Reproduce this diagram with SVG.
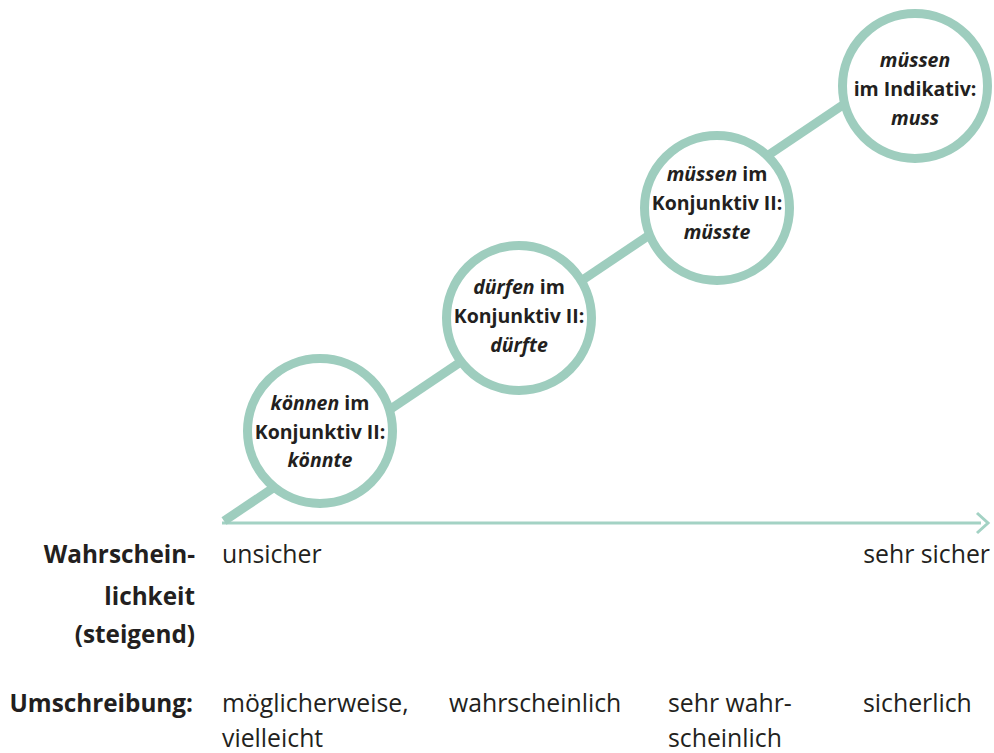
<svg xmlns="http://www.w3.org/2000/svg" width="994" height="753" viewBox="0 0 994 753">
<style>
.ring{fill:#fff;stroke:#9ecdbe;stroke-width:9}
.ct{font-family:"Open Sans","Liberation Sans",sans-serif;font-weight:bold;font-size:19.5px;fill:#231f20;text-anchor:middle}
.it{font-style:italic}
.lb{font-family:"Open Sans","Liberation Sans",sans-serif;font-size:24.8px;fill:#231f20}
.b{font-weight:bold;text-anchor:end;font-size:24.3px}
</style>
<g id="connectors">
<line x1="222" y1="523" x2="981" y2="523" stroke="#a3d2c4" stroke-width="3"/>
<polyline points="977,513 988,523 977,533" fill="none" stroke="#a3d2c4" stroke-width="3"/>
<line x1="224" y1="521" x2="880" y2="80" stroke="#9ecdbe" stroke-width="9" stroke-linecap="butt"/>
</g>
<g id="node1">
<circle class="ring" cx="320" cy="431" r="72.5"/>
<text class="ct" x="320" y="410"><tspan class="it">können</tspan> im</text>
<text class="ct" x="320" y="439">Konjunktiv II:</text>
<text class="ct it" x="320" y="467">könnte</text>
</g>
<g id="node2">
<circle class="ring" cx="519" cy="318" r="72.5"/>
<text class="ct" x="519" y="294"><tspan class="it">dürfen</tspan> im</text>
<text class="ct" x="519" y="323">Konjunktiv II:</text>
<text class="ct it" x="519" y="352">dürfte</text>
</g>
<g id="node3">
<circle class="ring" cx="717" cy="208" r="72.5"/>
<text class="ct" x="717" y="181"><tspan class="it">müssen</tspan> im</text>
<text class="ct" x="717" y="210">Konjunktiv II:</text>
<text class="ct it" x="717" y="239">müsste</text>
</g>
<g id="node4">
<circle class="ring" cx="915" cy="86" r="72.5"/>
<text class="ct it" x="915" y="67">müssen</text>
<text class="ct" x="915" y="96">im Indikativ:</text>
<text class="ct it" x="915" y="125">muss</text>
</g>
<g id="labels">
<text class="lb b" x="195" y="563">Wahrschein-</text>
<text class="lb b" x="195" y="605">lichkeit</text>
<text class="lb b" x="195" y="643">(steigend)</text>
<text class="lb" x="222" y="563">unsicher</text>
<text class="lb" x="990" y="563" text-anchor="end">sehr sicher</text>
<text class="lb b" x="193" y="712">Umschreibung:</text>
<text class="lb" x="222" y="712">möglicherweise,</text>
<text class="lb" x="222" y="747">vielleicht</text>
<text class="lb" x="449" y="712">wahrscheinlich</text>
<text class="lb" x="668" y="712">sehr wahr-</text>
<text class="lb" x="668" y="747">scheinlich</text>
<text class="lb" x="863" y="712">sicherlich</text>
</g>
</svg>
